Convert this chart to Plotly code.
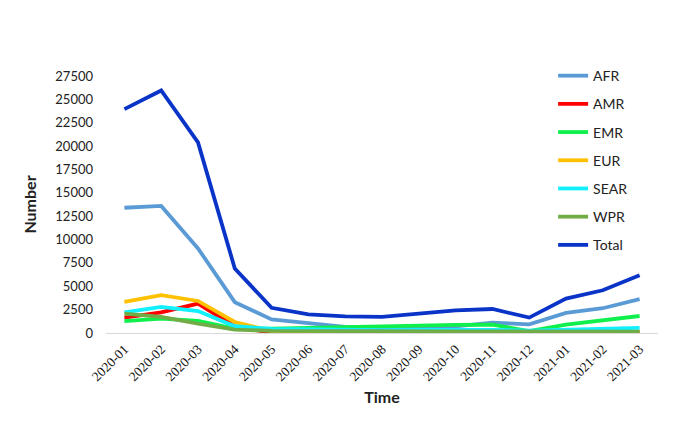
import plotly.graph_objects as go

months = ["2020-01", "2020-02", "2020-03", "2020-04", "2020-05", "2020-06", "2020-07",
          "2020-08", "2020-09", "2020-10", "2020-11", "2020-12", "2021-01", "2021-02", "2021-03"]

AFR = [13400, 13600, 9050, 3300, 1450, 1050, 650, 550, 600, 700, 1100, 930, 2150, 2650, 3620]
AMR = [1650, 2200, 3150, 700, 20, 80, 100, 100, 100, 100, 100, 80, 90, 90, 100]
EMR = [1280, 1540, 1300, 470, 470, 560, 650, 650, 790, 880, 900, 200, 900, 1350, 1820]
EUR = [3320, 4040, 3430, 1180, 200, 80, 60, 60, 60, 60, 60, 50, 60, 60, 70]
SEAR = [2200, 2800, 2350, 720, 450, 380, 330, 300, 330, 360, 330, 250, 350, 420, 540]
WPR = [2080, 1720, 1000, 360, 230, 200, 180, 170, 170, 170, 170, 150, 150, 150, 150]
Total = [23950, 25950, 20400, 6900, 2700, 2000, 1780, 1720, 2080, 2430, 2570, 1650, 3680, 4570, 6180]

series = [
    ("AFR", AFR, "#5b9bd5"),
    ("AMR", AMR, "#ff0000"),
    ("EMR", EMR, "#10f04c"),
    ("EUR", EUR, "#ffc000"),
    ("SEAR", SEAR, "#10f0ff"),
    ("WPR", WPR, "#70ad47"),
    ("Total", Total, "#0a34c8"),
]

yticks = [0, 2500, 5000, 7500, 10000, 12500, 15000, 17500, 20000, 22500, 25000, 27500]

fig = go.Figure()
for name, vals, col in series:
    fig.add_trace(go.Scatter(x=months, y=vals, name=name, mode="lines",
                             legendgroup=name,
                             line=dict(color=col, width=3.8)))

font_family = "Lato, Carlito, 'Open Sans', sans-serif"
fig.update_layout(
    width=665, height=433,
    margin=dict(l=98, r=15, t=68, b=108),
    paper_bgcolor="white", plot_bgcolor="white",
    font=dict(family=font_family, color="#333333", size=13),
    showlegend=True,
    legend=dict(x=0.81, y=1.062, xanchor="left", yanchor="top",
                font=dict(size=14, color="#222222"),
                traceorder="grouped", tracegroupgap=7,
                bgcolor="rgba(0,0,0,0)"),
    xaxis=dict(type="category", range=[-0.5, 14.5], tickangle=-45,
               showgrid=False, showline=True, linecolor="#d9d9d9", linewidth=1,
               ticks="", ticklabelstandoff=2,
               tickfont=dict(family="'Liberation Serif', 'Times New Roman', serif", size=13.5, color="#111111"),
               title=dict(text="<b>Time</b>", font=dict(size=16, color="#222222"), standoff=8)),
    yaxis=dict(range=[0, 27500], tickvals=yticks, ticktext=[str(v) for v in yticks],
               showgrid=False, zeroline=False, showline=False, ticks="",
               ticklabelstandoff=12,
               tickfont=dict(size=13, color="#222222"),
               title=dict(text="<b>Number</b>", font=dict(size=16, color="#222222"), standoff=14)),
)

fig.write_html("out.html")
